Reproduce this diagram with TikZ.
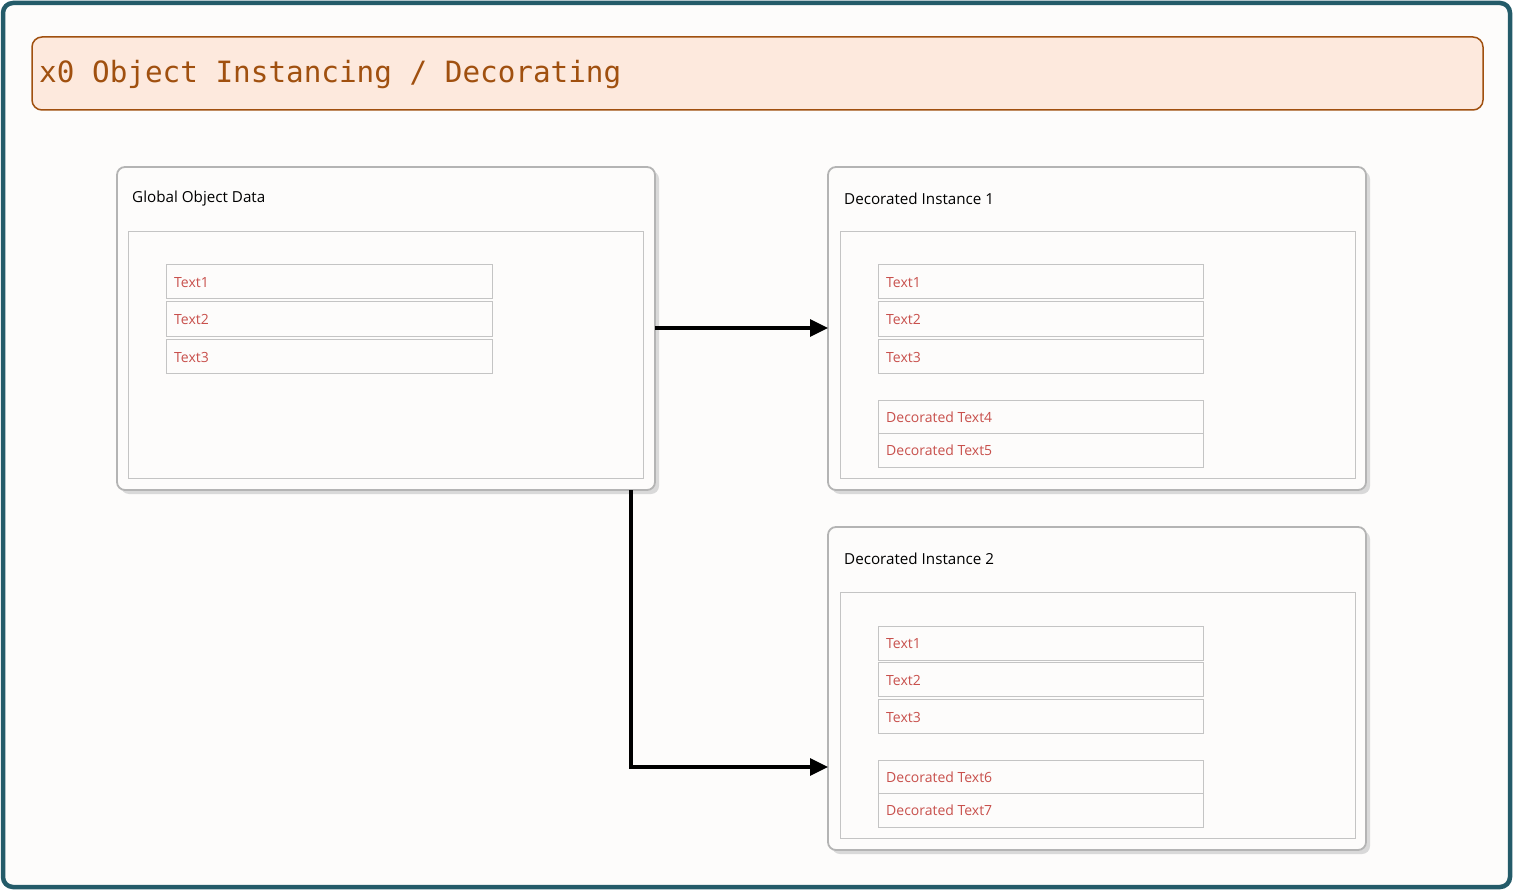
\documentclass[tikz,border=0pt]{standalone}
\usepackage{fontspec}
\setmainfont{Open Sans}
\newfontfamily\titlefont{DejaVu Sans Mono}
\usetikzlibrary{arrows.meta,positioning,calc}
\definecolor{frameC}{HTML}{245B69}
\definecolor{bgC}{HTML}{FDFCFB}
\definecolor{titleFill}{HTML}{FDE9DD}
\definecolor{titleC}{HTML}{A0500F}
\definecolor{boxC}{HTML}{B4B4B4}
\definecolor{shadowC}{HTML}{D9D9D9}
\definecolor{innerC}{HTML}{C4C4C4}
\definecolor{itemText}{HTML}{C8504C}
\tikzset{
  outerbox/.style={draw=boxC,line width=1.8pt,rounded corners=8pt,fill=bgC},
  shadowbox/.style={fill=shadowC,rounded corners=8pt},
  innerbox/.style={draw=innerC,line width=1pt},
  itembox/.style={draw=innerC,line width=1pt,fill=bgC},
  itemlabel/.style={anchor=west,text=itemText,font=\fontsize{14}{16}\selectfont,inner sep=0pt},
  boxlabel/.style={anchor=west,font=\fontsize{15.2}{17}\selectfont,inner sep=0pt},
  conn/.style={line width=3.2pt,-{Triangle[length=18pt,width=17pt]}}
}
\begin{document}
\begin{tikzpicture}[x=1pt,y=-1pt]
\useasboundingbox (0,0) rectangle (1514,890);
\draw[draw=frameC,line width=4.5pt,fill=bgC,rounded corners=10pt] (3,3) rectangle (1510,887);
% title
\draw[fill=titleFill,draw=titleC,line width=1.5pt,rounded corners=10pt] (32,37) rectangle (1483,110);
\node[anchor=west,inner sep=0pt,text=titleC,font=\titlefont\fontsize{29.3}{32}\selectfont] (title) at (39,75) {x0 Object Instancing / Decorating};

% Global box
\fill[shadowbox] (121,171) rectangle (659,494);
\draw[outerbox] (117,167) rectangle (655,490);
\node[boxlabel] (glab) at (132,199) {Global Object Data};
\draw[innerbox] (128,232) rectangle (643,478);
\node[draw=none,minimum width=538pt,minimum height=323pt,anchor=north west,inner sep=0pt] (global) at (117,167) {};

\foreach \y/\t [count=\i] in {265/Text1,302/Text2,339/Text3}{
  \draw[itembox] (166,\y) rectangle (492,\y+34);
  \node[itemlabel] (g\i) at (174,\y+18) {\t};
}

% Instance 1
\fill[shadowbox] (832,171) rectangle (1370,494);
\draw[outerbox] (828,167) rectangle (1366,490);
\node[boxlabel] (ilab1) at (844,199) {Decorated Instance 1};
\draw[innerbox] (840,232) rectangle (1355,478);
\node[draw=none,minimum width=538pt,minimum height=323pt,anchor=north west,inner sep=0pt] (inst1) at (828,167) {};
\foreach \y/\t [count=\i] in {265/Text1,302/Text2,339/Text3}{
  \draw[itembox] (878,\y) rectangle (1203,\y+34);
  \node[itemlabel] (a\i) at (886,\y+18) {\t};
}
\draw[itembox] (878,400) rectangle (1203,433);
\draw[itembox] (878,433) rectangle (1203,467);
\node[itemlabel] (a4) at (886,417) {Decorated Text4};
\node[itemlabel] (a5) at (886,450.5) {Decorated Text5};

% Instance 2
\fill[shadowbox] (832,531) rectangle (1370,854);
\draw[outerbox] (828,527) rectangle (1366,850);
\node[boxlabel] (ilab2) at (844,559) {Decorated Instance 2};
\draw[innerbox] (840,592) rectangle (1355,838);
\node[draw=none,minimum width=538pt,minimum height=323pt,anchor=north west,inner sep=0pt] (inst2) at (828,527) {};
\foreach \y/\t [count=\i] in {626/Text1,662/Text2,699/Text3}{
  \draw[itembox] (878,\y) rectangle (1203,\y+34);
  \node[itemlabel] (b\i) at (886,\y+18) {\t};
}
\draw[itembox] (878,760) rectangle (1203,793);
\draw[itembox] (878,793) rectangle (1203,827);
\node[itemlabel] (b4) at (886,777) {Decorated Text6};
\node[itemlabel] (b5) at (886,810.5) {Decorated Text7};

% connectors
\draw[conn] (global.east |- 0,328) -- (inst1.west |- 0,328);
\coordinate (bend) at (631,767);
\draw[conn] (global.south -| bend) -- (bend) -- (inst2.west |- bend);
\end{tikzpicture}
\end{document}
